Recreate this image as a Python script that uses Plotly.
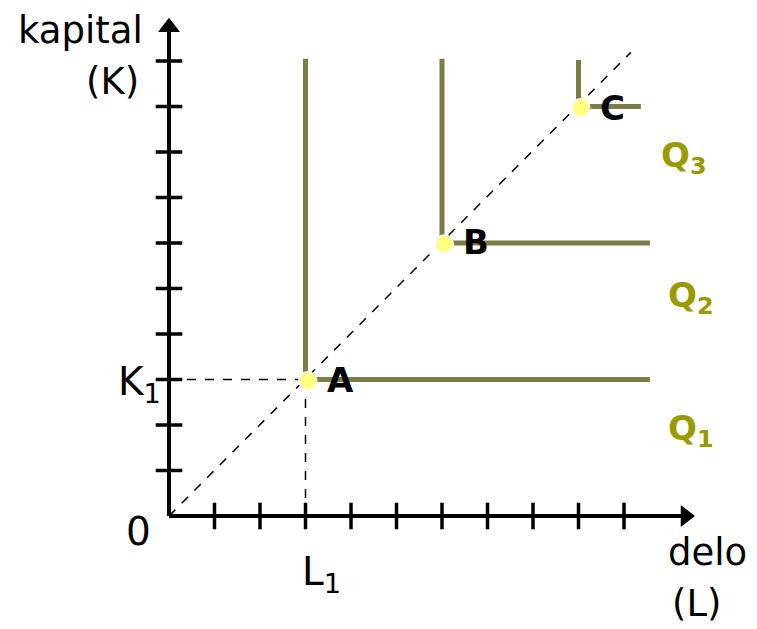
import plotly.graph_objects as go

# ---- data ----
ticks = [1, 2, 3, 4, 5, 6, 7, 8, 9, 10]
corner_L = [3, 6, 9]
corner_K = [3, 6, 9]
vert_top = [10.05, 10.05, 10.02]
horiz_end = [10.57, 10.57, 10.37]
point_names = ["A", "B", "C"]
point_L = [3.05, 6.05, 9.05]
point_K = [2.97, 5.98, 8.97]
label_L = [3.76, 6.75, 9.74]
label_K = [2.99, 6.02, 8.97]
q_names = ["Q<sub>1</sub>", "Q<sub>2</sub>", "Q<sub>3</sub>"]
q_L = [11.47, 11.47, 11.30]
q_K = [1.89, 4.81, 7.89]
ray_end = [10.15, 10.19]
x_tip = 11.56
y_tip = 10.95
L1, K1 = 3, 3

UNIT = 45.5
W, H = 741, 613          # page body has an 8px margin
ox, oy = 161, 508
xr = [-ox / UNIT, (W - ox) / UNIT]
yr = [(oy - H) / UNIT, oy / UNIT]

ISO = "#7d7c48"
QCOL = "#999900"
FONT = "DejaVu Sans"

fig = go.Figure()

# dashed guides
for xs, ys in [([0, ray_end[0]], [0, ray_end[1]]), ([0, L1], [K1, K1]), ([L1, L1], [0, K1])]:
    fig.add_trace(go.Scatter(x=xs, y=ys, mode="lines",
                             line=dict(color="black", width=1.5, dash="dash")))

# isoquants
for cl, ck, vt, he in zip(corner_L, corner_K, vert_top, horiz_end):
    fig.add_trace(go.Scatter(x=[cl, cl, he], y=[vt, ck, ck], mode="lines",
                             line=dict(color=ISO, width=5)))

# axes
fig.add_trace(go.Scatter(x=[0, x_tip - 0.2], y=[0, 0], mode="lines",
                         line=dict(color="black", width=4)))
fig.add_trace(go.Scatter(x=[0, 0], y=[0, y_tip - 0.2], mode="lines",
                         line=dict(color="black", width=4)))
# ticks
fig.add_trace(go.Scatter(x=ticks, y=[0] * len(ticks), mode="markers",
                         marker=dict(symbol="line-ns", size=19,
                                     line=dict(color="black", width=3.5))))
fig.add_trace(go.Scatter(x=[0] * len(ticks), y=ticks, mode="markers",
                         marker=dict(symbol="line-ew", size=19,
                                     line=dict(color="black", width=3.5))))
# arrowheads
s = 19
r = s / 2 / UNIT
fig.add_trace(go.Scatter(x=[x_tip - r], y=[0], mode="markers",
                         marker=dict(symbol="triangle-right", size=s, color="black")))
fig.add_trace(go.Scatter(x=[0], y=[y_tip - r], mode="markers",
                         marker=dict(symbol="triangle-up", size=s, color="black")))

# points
fig.add_trace(go.Scatter(x=point_L, y=point_K, mode="markers",
                         marker=dict(size=18, color="#ffff80",
                                     line=dict(color="white", width=1.5))))

ann = []
for n, x, y in zip(point_names, label_L, label_K):
    ann.append(dict(x=x, y=y, text="<b>%s</b>" % n, showarrow=False,
                    font=dict(family=FONT, size=34, color="black"),
                    xanchor="center", yanchor="middle"))
for n, x, y in zip(q_names, q_L, q_K):
    ann.append(dict(x=x, y=y, text="<b>%s</b>" % n, showarrow=False,
                    font=dict(family=FONT, size=34, color=QCOL),
                    xanchor="center", yanchor="middle"))

txt = dict(family=FONT, size=37, color="black")
big = dict(family=FONT, size=39, color="black")
ann += [
    dict(x=-1.94, y=10.66, text="kapital", showarrow=False, font=txt,
         xanchor="center", yanchor="middle"),
    dict(x=-1.24, y=9.56, text="(K)", showarrow=False, font=txt,
         xanchor="center", yanchor="middle"),
    dict(x=-0.66, y=-0.33, text="0", showarrow=False, font=big,
         xanchor="center", yanchor="middle"),
    dict(x=-0.65, y=K1 - 0.1, text="K<sub>1</sub>", showarrow=False, font=big,
         xanchor="center", yanchor="middle"),
    dict(x=L1 + 0.36, y=-1.28, text="L<sub>1</sub>", showarrow=False, font=big,
         xanchor="center", yanchor="middle"),
    dict(x=11.83, y=-0.8, text="delo", showarrow=False, font=txt,
         xanchor="center", yanchor="middle"),
    dict(x=11.59, y=-1.93, text="(L)", showarrow=False, font=txt,
         xanchor="center", yanchor="middle"),
]

fig.update_layout(
    width=W, height=H, autosize=False,
    margin=dict(l=0, r=0, t=0, b=0),
    paper_bgcolor="white", plot_bgcolor="white",
    showlegend=False,
    xaxis=dict(range=xr, visible=False, fixedrange=True),
    yaxis=dict(range=yr, visible=False, fixedrange=True),
    annotations=ann,
)
fig.write_html("out.html")
